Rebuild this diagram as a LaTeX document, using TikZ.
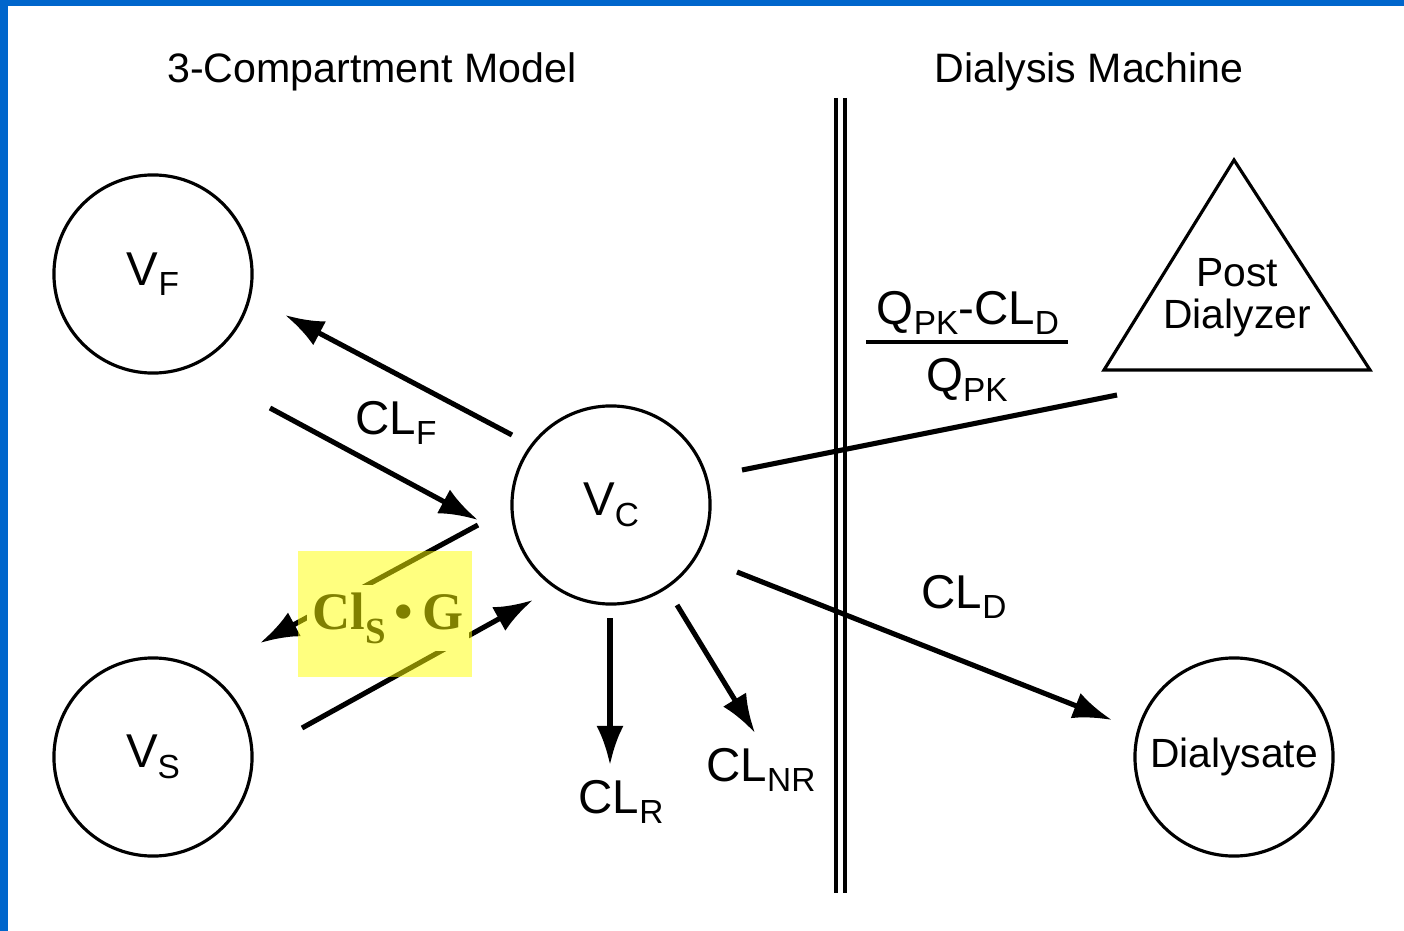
\documentclass[tikz,border=0pt]{standalone}
\usepackage{fontspec}
\setmainfont{Liberation Sans}
\newfontfamily\hlfont{Liberation Serif}
\usepackage{tikz}
\usetikzlibrary{arrows.meta,positioning}
\definecolor{slideblue}{HTML}{0066CC}
\definecolor{hlyellow}{HTML}{FFFF00}
\newcommand{\lowsub}[1]{\raisebox{-3pt}{\fontsize{9.5}{10}\selectfont #1}}
\tikzset{
  compart/.style={
    circle,
    draw=black,
    line width=0.9pt,
    minimum size=1.98cm,
    inner sep=0pt,
    font=\fontsize{13.5}{15}\selectfont
  },
  ratelabel/.style={
    inner sep=1pt,
    font=\fontsize{13.5}{15}\selectfont
  },
  headlabel/.style={
    inner sep=1pt,
    align=center,
    font=\fontsize{11.7}{12.2}\selectfont
  },
  flowline/.style={-{Latex[length=3.9mm,width=2.7mm]},line width=1.45pt},
  plainline/.style={line width=1.45pt}
}

\begin{document}
\begin{tikzpicture}[x=0.01cm,y=-0.01cm]
  \useasboundingbox (0,0) rectangle (1404,931);
  \fill[slideblue] (0,0) rectangle (1404,6);
  \fill[slideblue] (0,0) rectangle (8,931);
  % headings and the dividing double line
  \node[headlabel] (modelhead) at (372,72) {3-Compartment Model};
  \node[headlabel] (machinehead) at (1089,72) {Dialysis Machine};
  \draw[line width=0.9pt] (836,98) -- (836,893);
  \draw[line width=0.9pt] (845,98) -- (845,893);
  % compartments
  \node[compart] (vf) at (153,274) {V\lowsub{F}};
  \node[compart] (vs) at (153,757) {V\lowsub{S}};
  \node[compart] (vc) at (611,505) {V\lowsub{C}};
  \node[compart, font=\fontsize{11.6}{12}\selectfont] (dialysate) at (1234,757) {Dialysate};
  \draw[line width=0.9pt] (1234,160) -- (1370,370) -- (1104,370) -- cycle;
  \node[headlabel, font=\fontsize{11.6}{12}\selectfont] (postdial) at (1237,298) {Post\\Dialyzer};
  % free ends of the connectors
  \coordinate (cfout) at (512,435);
  \coordinate (cfin) at (285,315);
  \coordinate (cfback) at (270,408);
  \coordinate (cfto) at (478,520);
  \coordinate (csout) at (478,525);
  \coordinate (csin) at (260,643);
  \coordinate (csback) at (302,728);
  \coordinate (csto) at (533,600);
  \coordinate (crtop) at (610,618);
  \coordinate (crend) at (610,765);
  \coordinate (cnrtop) at (677,605);
  \coordinate (cnrend) at (755,733);
  \coordinate (cdtop) at (737,572);
  \coordinate (cdend) at (1112,720);
  \coordinate (qtop) at (742,470);
  \coordinate (qend) at (1117,395);
  \draw[flowline] (cfout) -- (cfin);
  \draw[flowline] (cfback) -- (cfto);
  \draw[flowline] (csout) -- (csin);
  \draw[flowline] (csback) -- (csto);
  \draw[flowline] (crtop) -- (crend);
  \draw[flowline] (cnrtop) -- (cnrend);
  \draw[flowline] (cdtop) -- (cdend);
  \draw[plainline] (qtop) -- (qend);
  % rate labels
  \node[ratelabel] (clf) at (396,423) {CL\lowsub{F}};
  \node[ratelabel] (clr) at (621,802) {CL\lowsub{R}};
  \node[ratelabel] (clnr) at (761,770) {CL\lowsub{NR}};
  \node[ratelabel] (cld) at (964,597) {CL\lowsub{D}};
  \node[ratelabel] (qnum) at (968,313) {Q\lowsub{PK}-CL\lowsub{D}};
  \node[ratelabel] (qden) at (967,380) {Q\lowsub{PK}};
  \coordinate (barleft) at (866,342);
  \coordinate (barright) at (1068,342);
  \draw[line width=0.9pt] (barleft) -- (barright);
  % highlighted term
  \node[fill=white, minimum width=1.62cm, minimum height=0.65cm, inner sep=0pt,
    font=\hlfont\bfseries\fontsize{15}{16}\selectfont] (clsg) at (388,618)
    {Cl\raisebox{-4pt}{\fontsize{10.5}{11}\selectfont S}\,•\,G};
  \fill[hlyellow, fill opacity=0.5] (298,551) rectangle (472,677);
\end{tikzpicture}
\end{document}
